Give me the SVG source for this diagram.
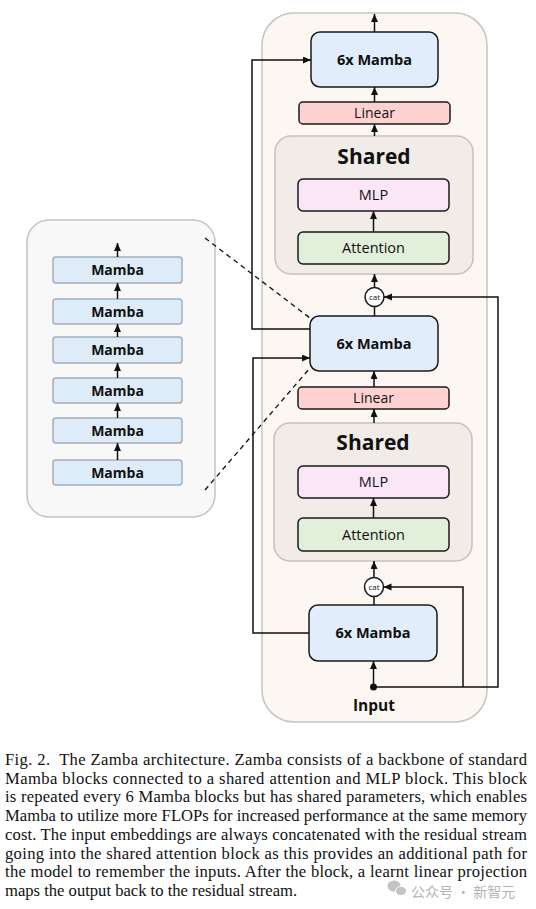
<svg xmlns="http://www.w3.org/2000/svg" width="536" height="909" viewBox="0 0 536 909">
<style>
.bg{fill:#ffffff}
.outer{fill:#fdf7f3;stroke:#c9c3bd;stroke-width:1.5}
.panel{fill:#f8f8f8;stroke:#c4c4c4;stroke-width:1.5}
.mamba{fill:#e1edfa;stroke:#1a1a1a;stroke-width:1.5}
.mini{fill:#deebf8;stroke:#a3adb8;stroke-width:1.5}
.linear{fill:#ffd2d2;stroke:#1a1a1a;stroke-width:1.5}
.shared{fill:#f1ece8;stroke:#c6c1bd;stroke-width:1.5}
.mlp{fill:#fbe6f8;stroke:#1a1a1a;stroke-width:1.5}
.attn{fill:#e2efda;stroke:#1a1a1a;stroke-width:1.5}
.cat{fill:#ffffff;stroke:#1a1a1a;stroke-width:1.5}
.ln{fill:none;stroke:#111;stroke-width:1.5}
.dash{fill:none;stroke:#111;stroke-width:1.3;stroke-dasharray:5 4}
.tb{font-family:"Open Sans","Noto Sans",sans-serif;font-weight:bold;fill:#111;text-anchor:middle}
.tr{font-family:"Open Sans","Noto Sans",sans-serif;fill:#111;text-anchor:middle}
.cap{font-family:"Liberation Serif","Times New Roman",serif;font-size:16.6px;fill:#111}
.wm{font-family:"Noto Sans CJK SC",sans-serif;font-size:14px;fill:#b5b5b5}
</style>
<defs>
<marker id="ah" markerUnits="userSpaceOnUse" markerWidth="9" markerHeight="8" refX="8" refY="3.5" orient="auto">
<path d="M0,0 L8,3.5 L0,7 z" fill="#111"/>
</marker>
</defs>
<rect class="bg" x="0" y="0" width="536" height="909"/>

<g id="container">
<rect class="outer" x="262" y="13" width="225" height="709" rx="32"/>
</g>

<g id="zoom-panel">
<rect class="panel" x="27" y="220" width="188" height="297" rx="22"/>
</g>

<g id="mini-mamba-1"><rect class="mini" x="53" y="257" width="129" height="26" rx="3"/><text class="tb" x="117.5" y="275" font-size="14">Mamba</text></g>
<g id="mini-mamba-2"><rect class="mini" x="53" y="299" width="129" height="25" rx="3"/><text class="tb" x="117.5" y="316.5" font-size="14">Mamba</text></g>
<g id="mini-mamba-3"><rect class="mini" x="53" y="337" width="129" height="26" rx="3"/><text class="tb" x="117.5" y="355" font-size="14">Mamba</text></g>
<g id="mini-mamba-4"><rect class="mini" x="53" y="378" width="129" height="25" rx="3"/><text class="tb" x="117.5" y="395.5" font-size="14">Mamba</text></g>
<g id="mini-mamba-5"><rect class="mini" x="53" y="418" width="129" height="25" rx="3"/><text class="tb" x="117.5" y="435.5" font-size="14">Mamba</text></g>
<g id="mini-mamba-6"><rect class="mini" x="53" y="460" width="129" height="25" rx="3"/><text class="tb" x="117.5" y="477.5" font-size="14">Mamba</text></g>

<g id="mamba-top"><rect class="mamba" x="311" y="32" width="127" height="55" rx="9"/><text class="tb" x="374.5" y="65" font-size="14.5">6x Mamba</text></g>
<g id="linear-top"><rect class="linear" x="299" y="102" width="151" height="22" rx="4"/><text class="tr" x="374.5" y="118" font-size="14">Linear</text></g>
<g id="shared-top"><rect class="shared" x="275" y="136" width="198" height="138" rx="16"/><text class="tb" x="374" y="164" font-size="21">Shared</text></g>
<g id="mlp-top"><rect class="mlp" x="298" y="179" width="151" height="32" rx="5"/><text class="tr" x="373.5" y="200" font-size="14.5">MLP</text></g>
<g id="attention-top"><rect class="attn" x="298" y="232" width="151" height="32" rx="5"/><text class="tr" x="373.5" y="253" font-size="14.5">Attention</text></g>
<g id="cat-top"><circle class="cat" cx="374.5" cy="297" r="9.5"/><text class="tr" x="374.5" y="299.8" font-size="8">cat</text></g>

<g id="mamba-mid"><rect class="mamba" x="310" y="316" width="128" height="55" rx="9"/><text class="tb" x="374" y="349" font-size="14.5">6x Mamba</text></g>
<g id="linear-mid"><rect class="linear" x="298" y="387" width="151" height="22" rx="4"/><text class="tr" x="373.5" y="403" font-size="14">Linear</text></g>
<g id="shared-mid"><rect class="shared" x="274" y="423" width="198" height="138" rx="16"/><text class="tb" x="373" y="450" font-size="21">Shared</text></g>
<g id="mlp-mid"><rect class="mlp" x="298" y="466" width="151" height="32" rx="5"/><text class="tr" x="373.5" y="487" font-size="14.5">MLP</text></g>
<g id="attention-mid"><rect class="attn" x="298" y="518" width="151" height="33" rx="5"/><text class="tr" x="373.5" y="540" font-size="14.5">Attention</text></g>
<g id="cat-mid"><circle class="cat" cx="374" cy="587" r="9.5"/><text class="tr" x="374" y="589.8" font-size="8">cat</text></g>

<g id="mamba-bottom"><rect class="mamba" x="309" y="605" width="128" height="56" rx="9"/><text class="tb" x="373" y="638" font-size="14.5">6x Mamba</text></g>
<g id="input"><circle cx="373.5" cy="687" r="3.5" fill="#111"/><text class="tb" x="374" y="711" font-size="15.5">Input</text></g>

<g id="connectors">
<line class="ln" x1="374.5" y1="32" x2="374.5" y2="14" marker-end="url(#ah)"/>
<line class="ln" x1="374.5" y1="102" x2="374.5" y2="87" marker-end="url(#ah)"/>
<line class="ln" x1="374.5" y1="136" x2="374.5" y2="124" marker-end="url(#ah)"/>
<line class="ln" x1="373.5" y1="232" x2="373.5" y2="211" marker-end="url(#ah)"/>
<line class="ln" x1="374.5" y1="287.5" x2="374.5" y2="274" marker-end="url(#ah)"/>
<line class="ln" x1="374.5" y1="316" x2="374.5" y2="306.5"/>
<line class="ln" x1="374" y1="387" x2="374" y2="371" marker-end="url(#ah)"/>
<line class="ln" x1="374" y1="423" x2="374" y2="409" marker-end="url(#ah)"/>
<line class="ln" x1="373.5" y1="518" x2="373.5" y2="498" marker-end="url(#ah)"/>
<line class="ln" x1="374" y1="577.5" x2="374" y2="561" marker-end="url(#ah)"/>
<line class="ln" x1="374" y1="605" x2="374" y2="596.5"/>
<line class="ln" x1="373.5" y1="687" x2="373.5" y2="661" marker-end="url(#ah)"/>
<polyline class="ln" points="373.5,687 498,687 498,297 384,297" marker-end="url(#ah)"/>
<polyline class="ln" points="463,687 463,587 383.5,587" marker-end="url(#ah)"/>
<polyline class="ln" points="310,329 252,329 252,60 311,60" marker-end="url(#ah)"/>
<polyline class="ln" points="309,633 253,633 253,358 310,358" marker-end="url(#ah)"/>
<line class="ln" x1="117.5" y1="257" x2="117.5" y2="243" marker-end="url(#ah)"/>
<line class="ln" x1="117.5" y1="299" x2="117.5" y2="283" marker-end="url(#ah)"/>
<line class="ln" x1="117.5" y1="337" x2="117.5" y2="324" marker-end="url(#ah)"/>
<line class="ln" x1="117.5" y1="378" x2="117.5" y2="363" marker-end="url(#ah)"/>
<line class="ln" x1="117.5" y1="418" x2="117.5" y2="403" marker-end="url(#ah)"/>
<line class="ln" x1="117.5" y1="460" x2="117.5" y2="443" marker-end="url(#ah)"/>
<line class="dash" x1="205" y1="238" x2="310" y2="318"/>
<line class="dash" x1="205" y1="490" x2="310" y2="368"/>
</g>

<g id="caption">
<text class="cap" x="5" y="765" textLength="522" lengthAdjust="spacing" xml:space="preserve">Fig. 2.  The Zamba architecture. Zamba consists of a backbone of standard</text>
<text class="cap" x="5" y="783.7" textLength="522" lengthAdjust="spacing">Mamba blocks connected to a shared attention and MLP block. This block</text>
<text class="cap" x="5" y="802.4" textLength="522" lengthAdjust="spacing">is repeated every 6 Mamba blocks but has shared parameters, which enables</text>
<text class="cap" x="5" y="821.1" textLength="522" lengthAdjust="spacing">Mamba to utilize more FLOPs for increased performance at the same memory</text>
<text class="cap" x="5" y="839.8" textLength="522" lengthAdjust="spacing">cost. The input embeddings are always concatenated with the residual stream</text>
<text class="cap" x="5" y="858.5" textLength="522" lengthAdjust="spacing">going into the shared attention block as this provides an additional path for</text>
<text class="cap" x="5" y="877.2" textLength="522" lengthAdjust="spacing">the model to remember the inputs. After the block, a learnt linear projection</text>
<text class="cap" x="5" y="895.9">maps the output back to the residual stream.</text>
</g>

<g id="watermark">
<ellipse cx="394" cy="886" rx="6.5" ry="5.5" fill="#c4c4c4"/>
<ellipse cx="401" cy="891" rx="5.5" ry="4.6" fill="#c4c4c4" stroke="#ffffff" stroke-width="1"/>
<text class="wm" x="411" y="897">公众号 · 新智元</text>
</g>
</svg>
